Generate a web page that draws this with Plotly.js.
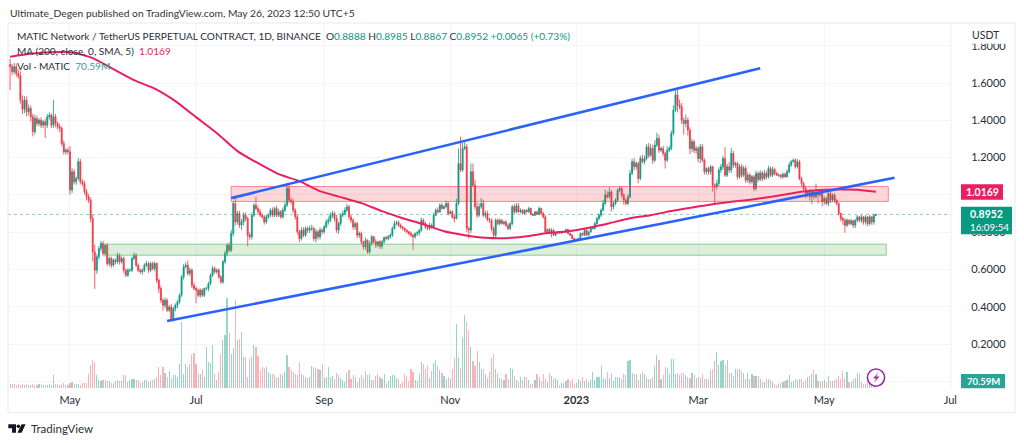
<!DOCTYPE html>
<html><head><meta charset="utf-8">
<script src="https://cdn.plot.ly/plotly-3.0.0.min.js"></script>
<style>html,body{margin:0;padding:0;background:#fff}#c{width:1024px;height:443px}</style></head>
<body><div id="c"></div>
<script>
const startDate='2022-04-02';
const firstOpen=1.70;
const closes=[
1.688,1.661,1.688,1.652,1.638,1.509,1.459,1.509,1.446,1.464,
1.419,1.339,1.410,1.383,1.401,1.374,1.392,1.374,1.419,1.428,
1.374,1.419,1.383,1.366,1.357,1.276,1.231,1.240,1.231,1.026,
1.124,1.070,1.088,1.178,1.070,1.061,1.017,.990,.972,.873,
.694,.596,.668,.712,.739,.685,.730,.632,.659,.623,
.650,.641,.676,.641,.659,.596,.569,.596,.596,.659,
.676,.623,.596,.587,.596,.623,.632,.596,.632,.605,
.632,.542,.498,.435,.408,.435,.381,.399,.336,.390,
.408,.426,.462,.560,.614,.623,.578,.596,.515,.498,
.489,.462,.489,.462,.498,.498,.524,.569,.605,.587,
.596,.560,.533,.641,.685,.730,.703,.793,.954,.855,
.900,.838,.855,.891,.873,.784,.775,.891,.945,.927,
.909,.891,.882,.855,.882,.891,.918,.891,.927,.891,
.909,.882,.918,.945,1.035,.972,.963,.918,.882,.802,
.766,.811,.784,.820,.811,.820,.820,.766,.802,.775,
.811,.802,.829,.855,.864,.891,.900,.873,.811,.847,
.891,.900,.918,.936,.882,.864,.828,.846,.784,.793,
.748,.721,.757,.694,.739,.775,.748,.730,.748,.725,
.748,.771,.766,.775,.784,.820,.846,.852,.837,.828,
.820,.811,.802,.793,.784,.775,.793,.796,.811,.864,
.846,.828,.820,.837,.828,.891,.918,.909,.945,.927,
.936,.954,.900,.909,.882,.873,.954,1.169,1.133,1.249,
1.258,.820,.811,1.124,1.052,.936,.891,.936,.954,.891,
.900,.868,.864,.820,.784,.864,.846,.864,.846,.855,
.837,.820,.846,.936,.909,.941,.909,.918,.900,.918,
.909,.927,.896,.891,.909,.896,.927,.900,.882,.802,
.814,.793,.811,.784,.796,.802,.796,.802,.802,.814,
.793,.784,.766,.757,.760,.766,.793,.784,.811,.784,
.802,.820,.820,.846,.873,.891,.918,.954,.999,.990,
1.016,.936,.954,.972,1.025,1.034,.999,.972,.954,.990,
1.115,1.178,1.151,1.169,1.088,1.195,1.178,1.195,1.258,1.213,
1.249,1.186,1.267,1.303,1.240,1.249,1.222,1.186,1.240,1.249,
1.330,1.455,1.536,1.482,1.473,1.401,1.383,1.401,1.348,1.249,
1.285,1.240,1.249,1.195,1.258,1.186,1.124,1.142,1.124,1.151,
1.052,1.043,1.061,1.133,1.151,1.195,1.106,1.151,1.133,1.222,
1.160,1.169,1.097,1.151,1.106,1.142,1.079,1.106,1.070,1.097,
1.034,1.115,1.083,1.118,1.088,1.115,1.097,1.142,1.106,1.136,
1.115,1.106,1.106,1.097,1.111,1.097,1.124,1.160,1.178,1.186,
1.151,1.178,1.088,1.061,1.034,1.007,1.016,.990,1.016,.990,
1.016,.999,1.016,.963,.981,.954,1.007,.972,.999,.972,
.954,.900,.873,.864,.837,.864,.846,.861,.837,.864,
.882,.864,.882,.855,.882,.846,.882,.855,.8888,.8952];
const wickUp=[
30,15,20,15,20,25,25,20,20,20, 15,15,20,15,10,15,10,15,15,15,
10,90,15,10,15,10,15,10,15,30, 20,15,10,20,15,15,15,15,15,15,
20,40,15,15,15,15,10,10,10,10, 10,10,15,10,10,10,10,10,10,10,
15,10,10,10,10,10,15,10,10,10, 10,5,10,15,10,15,10,10,15,10,
10,10,10,10,15,15,25,15,10,15, 10,10,10,10,5,10,10,10,15,10,
10,10,10,10,15,10,15,20,10,30, 15,15,15,15,15,10,15,15,10,45,
15,15,10,10,10,10,10,15,10,15, 15,10,15,15,30,25,15,15,10,10,
10,15,15,10,10,15,20,10,15,10, 15,10,10,15,20,15,15,10,20,10,
10,15,15,15,10,10,10,10,10,10, 10,5,15,5,15,10,5,15,5,10,
10,5,10,10,10,10,15,10,10,10, 5,5,5,5,10,5,5,10,5,15,
10,10,5,15,10,15,10,15,10,10, 10,15,10,10,10,10,25,80,143,30,
30,15,10,45,45,30,25,20,30,20, 15,15,10,10,10,10,10,10,5,5,
10,10,10,10,15,15,15,10,5,5, 5,10,5,5,5,5,10,5,10,10,
5,10,10,5,5,5,5,5,5,5, 5,5,5,5,5,5,5,5,10,5,
5,5,5,10,10,10,10,20,30,20, 25,10,10,10,10,15,10,10,10,15,
20,15,20,10,10,15,20,15,15,20, 25,20,25,30,20,10,15,10,20,15,
15,25,30,40,30,20,15,30,15,15, 15,10,15,10,15,15,10,5,10,10,
5,10,20,15,15,15,60,15,25,30, 15,10,10,15,15,15,15,15,10,10,
10,15,10,15,10,20,15,15,10,15, 10,10,10,5,10,10,15,15,10,10,
10,15,10,10,10,15,10,15,15,10, 45,15,15,10,10,10,10,15,10,10,
5,5,5,10,10,10,5,10,5,5, 10,5,10,5,10,5,10,5,10,3];
const wickDown=[
125,20,15,20,15,20,25,20,25,20, 25,25,15,15,15,15,15,70,15,15,
15,15,20,15,20,15,15,15,15,25, 15,15,15,10,15,15,15,20,15,20,
50,100,20,15,15,15,15,15,15,15, 10,15,10,15,10,15,10,10,10,10,
10,10,10,10,15,10,10,15,10,10, 15,15,25,15,30,15,10,10,10,15,
15,15,10,10,15,10,10,15,15,10, 70,10,15,10,10,10,15,10,10,10,
10,10,10,10,10,15,10,10,15,20, 15,15,25,20,15,60,15,15,10,10,
15,10,10,15,10,10,10,10,10,10, 10,10,10,10,10,15,15,15,15,15,
20,10,10,10,15,15,15,15,20,15, 15,15,10,10,15,10,15,15,15,20,
15,10,10,10,15,15,15,15,15,15, 15,15,15,10,10,10,10,15,10,15,
15,10,10,10,10,10,5,10,10,10, 10,10,10,10,10,70,10,15,15,10,
10,10,10,10,10,5,5,10,5,5, 5,5,10,5,10,20,5,10,10,10,
10,20,45,15,10,15,15,10,10,10, 15,10,15,15,20,10,10,10,5,10,
10,10,10,10,10,10,5,5,5,5, 5,5,5,5,5,5,5,10,10,10,
10,5,20,5,5,5,5,5,5,5, 5,5,5,5,5,5,5,5,5,5,
5,5,5,5,5,10,10,5,10,10, 10,25,15,10,10,10,15,25,10,10,
10,10,20,15,25,10,10,15,10,15, 10,20,10,10,15,10,15,45,10,10,
10,10,10,40,15,20,60,20,30,30, 20,15,20,20,25,10,15,15,15,15,
35,95,15,15,15,15,10,10,15,15, 15,15,15,10,15,10,15,15,15,10,
15,10,15,10,15,10,15,10,10,10, 10,5,10,10,10,5,5,10,10,5,
10,10,10,15,10,25,20,20,40,15, 10,45,10,25,15,10,15,15,10,15,
10,10,15,25,40,10,10,10,15,15, 10,10,15,15,15,15,10,15,15,2];
const volumesM=[
45,38,42,35,40,33,38,30,36,28, 32,40,35,30,38,42,35,30,33,45,
30,127,38,40,35,42,48,30,35,50, 60,42,38,45,35,55,48,52,143,226,
276,260,127,83,70,75,78,72,70,50, 55,70,78,70,72,127,127,60,75,90,
85,80,75,55,60,80,75,60,70,75, 90,110,210,125,210,150,110,170,100,130,
125,110,243,660,140,240,210,240,326,350, 240,140,140,175,110,410,260,245,426,140,
80,160,343,483,526,900,550,343,400,876, 483,493,560,310,310,110,293,310,426,410,
316,175,210,195,210,160,140,140,125,95, 110,140,125,160,326,210,175,160,140,125,
260,140,125,110,95,110,216,210,195,185, 175,243,95,110,210,110,120,90,150,130,
103,83,60,150,176,93,127,110,60,100, 127,100,166,127,140,77,77,117,137,107,
87,137,50,67,117,133,127,100,87,43, 60,137,120,70,186,163,83,70,137,256,
236,190,216,100,166,250,283,220,176,150, 120,93,107,87,193,300,643,306,203,510,
726,660,576,410,273,216,370,260,193,193, 137,100,160,296,343,193,153,103,87,80,
140,90,196,186,123,80,60,107,83,107, 107,77,43,43,77,140,107,70,140,93,
63,147,120,87,97,77,27,47,50,73, 87,70,93,43,47,93,70,113,67,93,
57,83,157,83,113,107,220,103,93,157, 103,150,70,107,107,107,93,137,127,266,
276,147,140,137,83,137,157,137,100,93, 87,113,216,326,283,90,133,206,203,140,
286,286,140,147,127,153,153,127,107,100, 147,127,103,110,100,140,93,93,90,176,
190,273,360,226,266,276,233,276,150,153, 120,193,193,186,170,150,93,150,93,143,
117,117,117,93,60,60,93,90,83,60, 43,27,40,47,57,70,77,127,63,67,
87,77,90,90,60,77,107,117,143,176, 137,67,60,67,77,60,117,70,70,77,
87,123,87,170,100,160,60,60,93,103, 150,137,60,37,43,60,50,27,45,70.59];
// 200-day SMA, read every 10th session
const ma200=[1.741,1.757,1.765,1.764,1.734,1.675,1.616,1.570,1.503,1.417,1.332,1.235,1.170,1.111,1.074,1.020,.988,.956,.913,.875,.843,.805,.784,.770,.768,.778,.795,.805,.824,.848,.875,.891,.913,.932,.950,.964,.977,.993,1.012,1.025,1.029,1.028,1.0169];
const maStepDays=10;
const upperChannel={x:['2022-07-18','2023-03-31'],y:[.9826,1.679]};
const lowerChannel={x:['2022-06-17','2023-06-04'],y:[.3237,1.0915]};
const redZone={x:['2022-07-18','2023-06-01'],y:[.965,1.045]};
const greenZone={x:['2022-05-18','2023-05-31'],y:[.6765,.7356]};
const lastPrice=0.8952;
const priceTicks=[0,.2,.4,.6,.8,1,1.2,1.4,1.6,1.8];
const priceLabels=['','0.2000','0.4000','0.6000','0.8000','','1.2000','1.4000','1.6000','1.8000'];
const timeTicks=['2022-05-01','2022-07-01','2022-09-01','2022-11-01','2023-01-01','2023-03-01','2023-05-01','2023-07-01'];
const timeLabels=['May','Jul','Sep','Nov','<b>2023</b>','Mar','May','Jul'];

const UP='#089981',DN='#F23645',FONT='Lato,sans-serif',TXT='#2a2e39';
const day=i=>new Date(Date.parse(startDate+'T00:00:00Z')+i*864e5).toISOString().slice(0,10);
const dates=closes.map((_,i)=>day(i));
const opens=closes.map((c,i)=>i?closes[i-1]:firstOpen);
const highs=closes.map((c,i)=>Math.max(c,opens[i])+wickUp[i]/1000);
const lows=closes.map((c,i)=>Math.min(c,opens[i])-wickDown[i]/1000);
const volColors=closes.map((c,i)=>c>=opens[i]?'rgba(8,153,129,.42)':'rgba(242,54,69,.38)');
const maDates=ma200.map((_,k)=>k===ma200.length-1?dates[dates.length-1]:day(k*maStepDays));

// plot rectangle in page pixels, for chart furniture only
const L=8,R=951,T=23,B=387.7;
const px=x=>(x-L)/(R-L), py=y=>(B-y)/(B-T);
const pageShape=(o)=>Object.assign({xref:'paper',yref:'paper',layer:'above'},o);
const box=(x0,y0,x1,y1,fill,line)=>pageShape({type:'rect',x0:px(x0),x1:px(x1),y0:py(y0),y1:py(y1),fillcolor:fill,line:{width:line?1:0,color:line||fill}});
const path=(pts,fill)=>pageShape({type:'path',path:'M'+pts.map(p=>px(p[0])+','+py(p[1])).join(' L')+' Z',fillcolor:fill,line:{width:0}});
const label=(x,y,text,o)=>Object.assign({xref:'paper',yref:'paper',x:px(x),y:py(y),text,showarrow:false,xanchor:'left',yanchor:'middle',align:'left',font:{family:FONT,size:10.1,color:TXT}},o||{});
const dataRect=(z,fill,line)=>({type:'rect',xref:'x',yref:'y',layer:'above',x0:z.x[0],x1:z.x[1],y0:z.y[0],y1:z.y[1],fillcolor:fill,line:{width:1,color:line}});
const dataLine=(l)=>({type:'line',xref:'x',yref:'y',layer:'above',x0:l.x[0],x1:l.x[1],y0:l.y[0],y1:l.y[1],line:{width:2.6,color:'#2962FF'}});

const traces=[
 {type:'candlestick',x:dates,open:opens,high:highs,low:lows,close:closes,whiskerwidth:0,
  increasing:{line:{color:UP,width:.8},fillcolor:UP},decreasing:{line:{color:DN,width:.8},fillcolor:DN},hoverinfo:'skip',showlegend:false},
 {type:'scatter',mode:'lines',x:maDates,y:ma200,line:{color:'#E91E63',width:2,shape:'spline',smoothing:.6},hoverinfo:'skip',showlegend:false},
 {type:'bar',x:dates,y:volumesM,yaxis:'y2',marker:{color:volColors,line:{width:0}},width:864e5*.55,hoverinfo:'skip',showlegend:false}
];
const layout={
 width:1024,height:443,paper_bgcolor:'#fff',plot_bgcolor:'#fff',showlegend:false,
 margin:{l:L,r:1024-R,t:T,b:443-B,pad:0},
 font:{family:FONT,size:11,color:TXT},bargap:0,
 xaxis:{type:'date',range:['2022-04-01','2023-07-01T08:00'],rangeslider:{visible:false},tickmode:'array',tickvals:timeTicks,ticktext:timeLabels,
  showgrid:true,gridcolor:'#f3f5f9',gridwidth:1,ticks:'outside',ticklen:2,tickcolor:'rgba(0,0,0,0)',tickfont:{family:FONT,size:11,color:TXT},showline:false,zeroline:false},
 yaxis:{side:'right',range:[-.036,1.9221],tickmode:'array',tickvals:priceTicks,ticktext:priceLabels,
  showgrid:true,gridcolor:'#f3f5f9',gridwidth:1,ticks:'outside',ticklen:17,tickcolor:'rgba(0,0,0,0)',tickfont:{family:FONT,size:11,color:TXT},showline:false,zeroline:false},
 yaxis2:{overlaying:'y',side:'right',range:[0,3647],visible:false,showgrid:false,zeroline:false},
 shapes:[
  {type:'line',xref:'paper',yref:'y',layer:'below',x0:0,x1:1,y0:lastPrice,y1:lastPrice,line:{width:.8,color:'rgba(8,153,129,.6)',dash:'dot'}},
  dataRect(redZone,'rgba(242,54,69,.2)','rgba(242,54,69,.55)'),
  dataRect(greenZone,'rgba(76,175,80,.2)','rgba(76,175,80,.6)'),
  dataLine(upperChannel),dataLine(lowerChannel),
  box(L,T,1015,412,'rgba(0,0,0,0)','#e6e9f0'),
  pageShape({type:'line',x0:1,x1:1,y0:0,y1:1,line:{width:1,color:'#eef0f5'}}),
  box(958,26,1010,43.8,'#fff'),
  box(961,184,1003,199.5,'#E91E63'),
  box(961,206.7,1012,234,UP),
  box(961,373.7,1005,388,'#26A69A'),
  pageShape({type:'circle',x0:px(867.4),x1:px(884.6),y0:py(385.9),y1:py(368.7),fillcolor:'#fff',line:{width:1.6,color:'#9C27B0'}}),
  path([[878.6,372],[873,378.2],[876.2,378.2],[873.6,382.6],[879.6,376.2],[876.2,376.2]],'#9C27B0'),
  path([[8.3,424],[16,424],[16,432.5],[12,432.5],[12,428],[8.3,428]],'#131722'),
  pageShape({type:'circle',x0:px(16.6),x1:px(20.2),y0:py(427.8),y1:py(424.2),fillcolor:'#131722',line:{width:0}}),
  path([[21.6,424],[25.6,424],[21.6,432.5],[17.4,432.5]],'#131722')
 ],
 annotations:[
  label(8,13,'Ultimate_Degen published on TradingView.com, May 26, 2023 12:50 UTC+5',{font:{family:FONT,size:10.3,color:'#333'}}),
  label(15,36,`MATIC Network / TetherUS PERPETUAL CONTRACT, 1D, BINANCE  O<span style="color:${UP}">0.8888</span> H<span style="color:${UP}">0.8985</span> L<span style="color:${UP}">0.8867</span> C<span style="color:${UP}">0.8952 +0.0065 (+0.73%)</span>`),
  label(15,51,'MA (200, close, 0, SMA, 5)  <span style="color:#E91E63">1.0169</span>'),
  label(15,66,'Vol · MATIC  <span style="color:#26A69A">70.59M</span>'),
  label(970,35,'USDT',{font:{family:FONT,size:10.5,color:TXT}}),
  label(982,191.6,'<b>1.0169</b>',{xanchor:'center',font:{family:FONT,size:10.5,color:'#fff'}}),
  label(968,214,'<b>0.8952</b>',{font:{family:FONT,size:10.5,color:'#fff'}}),
  label(968,226.5,'16:09:54',{font:{family:FONT,size:9.8,color:'#fff'}}),
  label(983,381,'<b>70.59M</b>',{xanchor:'center',font:{family:FONT,size:9.5,color:'#fff'}}),
  label(29,428.5,'TradingView',{font:{family:FONT,size:11.5,color:'#2a2e39'}})
 ]
};
Plotly.newPlot('c',traces,layout,{displayModeBar:false,staticPlot:true,responsive:false});
</script></body></html>
